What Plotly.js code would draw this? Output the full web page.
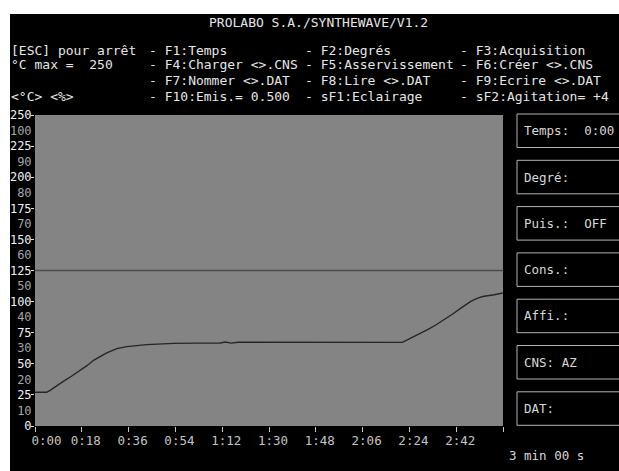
<!DOCTYPE html>
<html>
<head>
<meta charset="utf-8">
<script src="https://cdn.plot.ly/plotly-3.0.1.min.js"></script>
<style>
  html, body { margin: 0; padding: 0; background: #ffffff; width: 619px; height: 471px; overflow: hidden; }
  #chart { position: absolute; left: 10px; top: 14px; width: 609px; height: 457px; }
</style>
</head>
<body>
<div id="chart"></div>
<script>
// ---- data (time in seconds, temperature in °C) ----
const timeSec = [0, 4.5, 5.8, 8, 10.9, 14, 17.3, 20, 22.5, 25, 27.6, 31.5, 35.3, 43.0, 53.3, 62, 71.3, 73.2, 74.5, 75.5, 78, 82, 84, 90, 100, 109.8, 120, 130, 141.3, 144.5, 148, 151.0, 154, 157.4, 160.5, 163.8, 167.6, 170, 172.2, 176.6, 180];
const tempC   = [27.1, 27.1, 28.7, 31.5, 35.9, 40, 44.7, 48.5, 52.8, 55.5, 58.7, 62.2, 63.8, 65.4, 66.4, 66.6, 66.7, 67.5, 67.3, 66.6, 67.3, 67.3, 66.8, 66.9, 67.1, 67.2, 67.2, 67.2, 67.2, 70.7, 74.0, 77.4, 81.0, 85.4, 89.8, 94.8, 100.1, 102.6, 104.1, 105.5, 106.9];
const setpointX = [0, 180];
const setpointY = [125, 125];

const NB = '\u00a0';
const xTickVals = [0, 18, 36, 54, 72, 90, 108, 126, 144, 162, 180];
const xTickText = [NB + NB + '0:00', '0:18', '0:36', '0:54', '1:12', '1:30', '1:48', '2:06', '2:24', '2:42', ''];
const yTickVals = [0, 25, 50, 75, 100, 125, 150, 175, 200, 225, 250];
const yTickText = ['0', '25', '50', '75', '100', '125', '150', '175', '200', '225', '250'];
const pctTickVals = [12.5, 37.5, 62.5, 87.5, 112.5, 137.5, 162.5, 187.5, 212.5, 237.5];
const pctTickText = ['10', '20', '30', '40', '50', '60', '70', '80', '90', '100'];

const titleText = 'PROLABO S.A./SYNTHEWAVE/V1.2';
const menuCol0 = ['[ESC] pour arrêt', '°C max =  250', '', '<°C> <%>'];
const menuCol1 = ['- F1:Temps', '- F4:Charger <>.CNS', '- F7:Nommer <>.DAT', '- F10:Emis.= 0.500'];
const menuCol2 = ['- F2:Degrés', '- F5:Asservissement', '- F8:Lire <>.DAT', '- sF1:Eclairage'];
const menuCol3 = ['- F3:Acquisition', '- F6:Créer <>.CNS', '- F9:Ecrire <>.DAT', '- sF2:Agitation= +4'];
const panelLabels = ['Temps:  0:00', 'Degré:', 'Puis.:  OFF', 'Cons.:', 'Affi.:', 'CNS: AZ', 'DAT:'];
const durationText = '3 min 00 s';

// ---- geometry helpers (page pixels -> paper coords) ----
const PL = 35, PR = 503, PT = 115, PB = 426;
const px = x => (x - PL) / (PR - PL);
const py = y => (PB - y) / (PB - PT);

const FONT = 'DejaVu Sans Mono, Liberation Mono, monospace';
const annotations = [];
function txt(s, xPage, yPage, color, size, anchor) {
  annotations.push({
    text: s, xref: 'paper', yref: 'paper', x: px(xPage), y: py(yPage),
    xanchor: anchor || 'left', yanchor: 'middle', showarrow: false,
    font: {family: FONT, size: size || 13, color: color || '#e6e6e6'}
  });
}
txt(titleText, 318, 22, '#e6e6e6', 13, 'center');
const rowsY = [50, 64, 80, 97];
const colsX = [9, 147, 303, 458];
[menuCol0, menuCol1, menuCol2, menuCol3].forEach((col, ci) => {
  col.forEach((s, ri) => { if (s) txt(s, colsX[ci], rowsY[ri]); });
});

const shapes = [];
panelLabels.forEach((s, i) => {
  const top = 114 + 46.3 * i, bot = top + 33.5;
  shapes.push({type: 'rect', xref: 'paper', yref: 'paper', x0: px(517), x1: px(640), y0: py(bot), y1: py(top),
               line: {color: '#b4b4b4', width: 1}, fillcolor: 'rgba(0,0,0,0)', layer: 'above'});
  txt(s, 522, (top + bot) / 2, '#d8d8d8', 12.5);
});
txt(durationText, 507, 455, '#d8d8d8', 12.5);

const traces = [
  {x: setpointX, y: setpointY, yaxis: 'y2', mode: 'lines', line: {color: '#4c4c4c', width: 1.5}, hoverinfo: 'skip'},
  {x: timeSec, y: tempC, mode: 'lines', line: {color: '#262626', width: 1.4}, hoverinfo: 'skip'}
];

const layout = {
  width: 609, height: 457,
  margin: {l: PL - 10, r: 609 - (PR - 10), t: PT - 14, b: 457 - (PB - 14)},
  paper_bgcolor: '#000000', plot_bgcolor: '#848484',
  showlegend: false,
  xaxis: {range: [0, 180], tickvals: xTickVals, ticktext: xTickText, ticks: 'outside', ticklen: 5,
          tickcolor: '#c8c8c8', tickfont: {family: FONT, size: 12.5, color: '#c4c4c4'},
          ticklabelshift: 4, ticklabelstandoff: -2,
          showgrid: false, zeroline: false, showline: false, fixedrange: true},
  yaxis: {range: [0, 250], tickvals: yTickVals, ticktext: yTickText, ticks: 'outside', ticklen: 3,
          tickcolor: '#e0e0e0', tickfont: {family: FONT, size: 12, color: '#f0f0f0'},
          ticklabelstandoff: -3,
          showgrid: false, zeroline: false, showline: false, fixedrange: true},
  yaxis2: {range: [0, 250], overlaying: 'y', side: 'left', tickvals: pctTickVals, ticktext: pctTickText,
           ticks: 'outside', ticklen: 3, tickcolor: 'rgba(0,0,0,0)', ticklabelstandoff: -3,
           tickfont: {family: FONT, size: 12, color: '#a6a6a6'},
           showgrid: false, zeroline: false, showline: false, fixedrange: true},
  shapes: shapes,
  annotations: annotations
};

Plotly.newPlot('chart', traces, layout, {staticPlot: true, displayModeBar: false});
</script>
</body>
</html>
